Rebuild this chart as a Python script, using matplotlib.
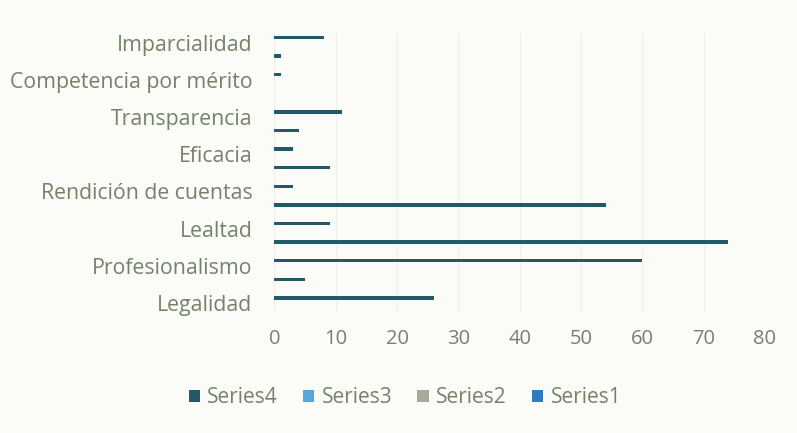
import numpy as np
import matplotlib
matplotlib.use('Agg')
import matplotlib.pyplot as plt

# categories bottom -> top; only every other one carries a visible label
categories = ['Legalidad', '', 'Profesionalismo', '', 'Lealtad', '',
              'Rendición de cuentas', '', 'Eficacia', '', 'Transparencia', '',
              'Competencia por mérito', '', 'Imparcialidad']
series_names = ['Series1', 'Series2', 'Series3', 'Series4']
series1 = [0] * 15
series2 = [0] * 15
series3 = [0] * 15
series4 = [26, 5, 60, 74, 9, 54, 3, 9, 3, 4, 11, 0, 1, 1, 8]
xticks = [0, 10, 20, 30, 40, 50, 60, 70, 80]

COLORS = {
    'Series1': '#2F7BBF',
    'Series2': '#A8AA9A',
    'Series3': '#56A8DC',
    'Series4': '#24596A',
}
TEXT = '#74826A'
BG = '#FBFBF8'

plt.rcParams['font.family'] = ['Open Sans', 'DejaVu Sans']

fig = plt.figure(figsize=(7.97, 4.33), dpi=100, facecolor=BG)
ax = fig.add_axes([0.3444, 0.2788, 0.9598 - 0.3444, 0.9231 - 0.2788])
ax.set_facecolor(BG)

y = np.arange(len(categories))
h = 1 / 5.5
bars = {}
for k, (name, vals) in enumerate(zip(series_names, [series1, series2, series3, series4])):
    bars[name] = ax.barh(y + (k - 1.5) * h, vals, height=h, color=COLORS[name],
                         label=name, zorder=3)

ax.set_xlim(0, 80)
ax.set_ylim(-0.5, len(categories) - 0.5)
ax.set_xticks(xticks)
ax.set_xticklabels([str(v) for v in xticks])
ax.set_yticks(y)
ax.set_yticklabels(categories)
ax.tick_params(axis='both', length=0, labelcolor=TEXT)
ax.tick_params(axis='x', pad=12, labelsize=14.5)
ax.tick_params(axis='y', pad=16, labelsize=15.3)
ax.grid(axis='x', color='#EFEFEA', linewidth=0.8, zorder=0)
for s in ax.spines.values():
    s.set_visible(False)

order = ['Series4', 'Series3', 'Series2', 'Series1']
fig.legend([bars[n] for n in order], order, loc='center', ncol=4,
           bbox_to_anchor=(0.508, 0.081), frameon=False, fontsize=15,
           labelcolor=TEXT, handlelength=0.55, handleheight=0.55,
           handletextpad=0.35, columnspacing=1.2)

fig.savefig('out.png', dpi=100, facecolor=BG)
